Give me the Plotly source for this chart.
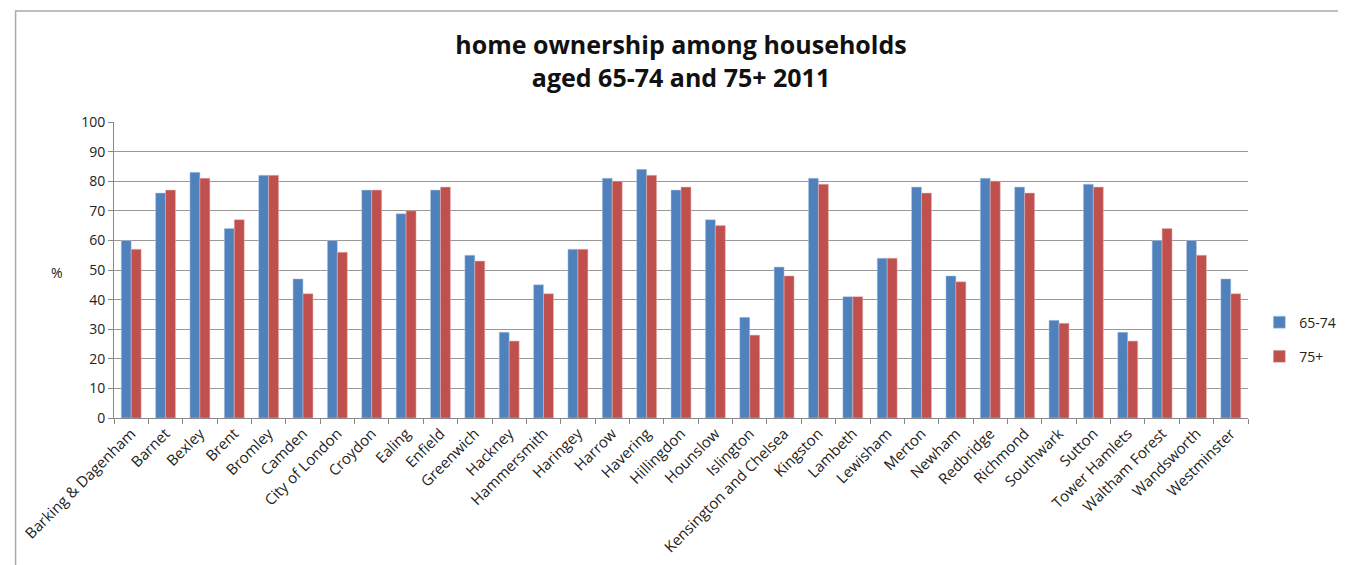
import plotly.graph_objects as go

boroughs = ["Barking & Dagenham", "Barnet", "Bexley", "Brent", "Bromley", "Camden",
            "City of London", "Croydon", "Ealing", "Enfield", "Greenwich", "Hackney",
            "Hammersmith", "Haringey", "Harrow", "Havering", "Hillingdon", "Hounslow",
            "Islington", "Kensington and Chelsea", "Kingston", "Lambeth", "Lewisham",
            "Merton", "Newham", "Redbridge", "Richmond", "Southwark", "Sutton",
            "Tower Hamlets", "Waltham Forest", "Wandsworth", "Westminster"]
age_65_74 = [60, 76, 83, 64, 82, 47, 60, 77, 69, 77, 55, 29, 45, 57, 81, 84, 77, 67,
             34, 51, 81, 41, 54, 78, 48, 81, 78, 33, 79, 29, 60, 60, 47]
age_75_plus = [57, 77, 81, 67, 82, 42, 56, 77, 70, 78, 53, 26, 42, 57, 80, 82, 78, 65,
               28, 48, 79, 41, 54, 76, 46, 80, 76, 32, 78, 26, 64, 55, 42]
y_ticks = list(range(0, 101, 10))

font = "Open Sans, Liberation Sans, sans-serif"
fig = go.Figure()
fig.add_trace(go.Bar(x=boroughs, y=age_65_74, name="65-74", marker_color="#4F81BD",
                     legendgroup="a",
                     marker_line=dict(color="#B9CDE5", width=0.5)))
fig.add_trace(go.Bar(x=boroughs, y=age_75_plus, name="75+", marker_color="#C0504D",
                     legendgroup="b",
                     marker_line=dict(color="#E6B9B8", width=0.5)))

fig.update_layout(
    width=1346, height=565,
    paper_bgcolor="white", plot_bgcolor="white",
    margin=dict(l=99, r=106, t=114, b=155),
    barmode="group", bargap=0.42, bargroupgap=0,
    font=dict(family=font, color="#222", size=14),
    title=dict(text="<b>home ownership among households<br>aged 65-74 and 75+ 2011</b>",
               x=0.5, xanchor="center", y=0.918, yanchor="top",
               font=dict(size=25, color="#111", family=font)),
    legend=dict(x=1.01, xanchor="left", y=0.265, yanchor="middle",
                font=dict(size=14, color="#222"), tracegroupgap=13,
                traceorder="grouped", itemwidth=30),
    showlegend=True,
)
fig.update_xaxes(tickangle=-45, showline=True, linecolor="#888", linewidth=1,
                 ticks="outside", tickson="boundaries", ticklen=5, tickcolor="#888",
                 tickfont=dict(size=15, color="#222"), showgrid=False)
fig.update_yaxes(range=[0, 100], tickvals=y_ticks, showline=True, linecolor="#888",
                 linewidth=1, ticks="outside", ticklen=5, tickcolor="#888",
                 gridcolor="#999", gridwidth=1, tickfont=dict(size=14, color="#222"),
                 zeroline=False)
fig.add_annotation(text="%", xref="paper", yref="paper", x=-0.057, y=0.493,
                   showarrow=False, font=dict(size=14, color="#222"))
fig.add_shape(type="rect", xref="paper", yref="paper", x0=-0.0868, x1=1.085,
              y0=-0.6, y1=1.375, line=dict(color="#AAAAAA", width=1.5))
fig.write_html("out.html")
